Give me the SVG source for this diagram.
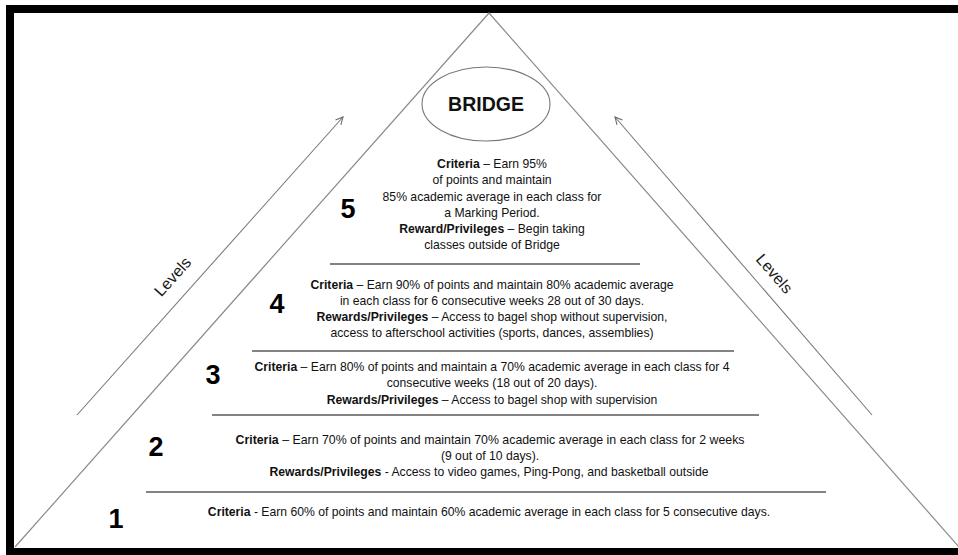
<svg xmlns="http://www.w3.org/2000/svg" width="958" height="555" viewBox="0 0 958 555">
<defs>
<style>
.t{font-family:"Liberation Sans",Arial,sans-serif;font-size:12.2px;fill:#111;text-anchor:middle}
.b{font-weight:bold}
.n{font-family:"Liberation Sans",Arial,sans-serif;font-size:27px;font-weight:bold;fill:#000;text-anchor:middle}
.lv{font-family:"Liberation Sans",Arial,sans-serif;font-size:16px;fill:#1a1a1a;text-anchor:middle}
.div{stroke:#5a5a5a;stroke-width:1.3;fill:none}
.side{stroke:#8a8a8a;stroke-width:1.2;fill:none}
.arr{stroke:#7a7a7a;stroke-width:1.1;fill:none;marker-end:url(#ah)}
</style>
<marker id="ah" viewBox="0 0 10 10" refX="9" refY="5" markerWidth="9" markerHeight="9" markerUnits="userSpaceOnUse" orient="auto">
<path d="M1,1 L9,5 L1,9" fill="none" stroke="#6a6a6a" stroke-width="1.2"/>
</marker>
</defs>
<rect width="958" height="555" fill="#fff"/>
<g id="frame" fill="#000">
<rect x="6" y="5" width="952" height="8"/>
<rect x="6" y="5" width="8" height="550"/>
<rect x="6" y="548" width="952" height="7"/>
</g>
<g id="pyramid">
<polyline class="side" points="15,547 489,13 959,547"/>
</g>
<g id="bridge">
<ellipse cx="486" cy="104" rx="64" ry="37" fill="none" stroke="#777" stroke-width="1.1"/>
<text x="486" y="111" font-family="Liberation Sans, Arial, sans-serif" font-size="19.5" font-weight="bold" text-anchor="middle" fill="#111">BRIDGE</text>
</g>
<g id="connectors">
<line class="arr" x1="77" y1="415" x2="343" y2="117"/>
<line class="arr" x1="872" y1="415" x2="615" y2="117"/>
</g>
<g id="levels-left">
<text class="lv" transform="translate(173,277) rotate(-48)" y="5">Levels</text>
</g>
<g id="levels-right">
<text class="lv" transform="translate(774,274) rotate(49)" y="5">Levels</text>
</g>
<g id="dividers">
<line class="div" x1="330" y1="264" x2="640" y2="264"/>
<line class="div" x1="252" y1="351" x2="734" y2="351"/>
<line class="div" x1="212" y1="415" x2="759" y2="415"/>
<line class="div" x1="146" y1="492" x2="826" y2="492"/>
</g>
<g id="level-5">
<text class="n" x="348" y="218">5</text>
<text class="t" x="492" y="168"><tspan class="b">Criteria</tspan> – Earn 95%</text>
<text class="t" x="492" y="184">of points and maintain</text>
<text class="t" x="492" y="201">85% academic average in each class for</text>
<text class="t" x="492" y="217">a Marking Period.</text>
<text class="t" x="492" y="233"><tspan class="b">Reward/Privileges</tspan> – Begin taking</text>
<text class="t" x="492" y="249">classes outside of Bridge</text>
</g>
<g id="level-4">
<text class="n" x="277" y="313">4</text>
<text class="t" x="492" y="289"><tspan class="b">Criteria</tspan> – Earn 90% of points and maintain 80% academic average</text>
<text class="t" x="492" y="305">in each class for 6 consecutive weeks 28 out of 30 days.</text>
<text class="t" x="492" y="321"><tspan class="b">Rewards/Privileges</tspan> – Access to bagel shop without supervision,</text>
<text class="t" x="492" y="337">access to afterschool activities (sports, dances, assemblies)</text>
</g>
<g id="level-3">
<text class="n" x="213" y="384">3</text>
<text class="t" x="492" y="371"><tspan class="b">Criteria</tspan> – Earn 80% of points and maintain a 70% academic average in each class for 4</text>
<text class="t" x="492" y="387">consecutive weeks (18 out of 20 days).</text>
<text class="t" x="492" y="404"><tspan class="b">Rewards/Privileges</tspan> – Access to bagel shop with supervision</text>
</g>
<g id="level-2">
<text class="n" x="156" y="456">2</text>
<text class="t" x="490" y="444" textLength="509" lengthAdjust="spacingAndGlyphs"><tspan class="b">Criteria</tspan> – Earn 70% of points and maintain 70% academic average in each class for 2 weeks</text>
<text class="t" x="490" y="460">(9 out of 10 days).</text>
<text class="t" x="489" y="476"><tspan class="b">Rewards/Privileges</tspan> - Access to video games, Ping-Pong, and basketball outside</text>
</g>
<g id="level-1">
<text class="n" x="116" y="528">1</text>
<text class="t" x="489" y="516"><tspan class="b">Criteria</tspan> - Earn 60% of points and maintain 60% academic average in each class for 5 consecutive days.</text>
</g>
</svg>
